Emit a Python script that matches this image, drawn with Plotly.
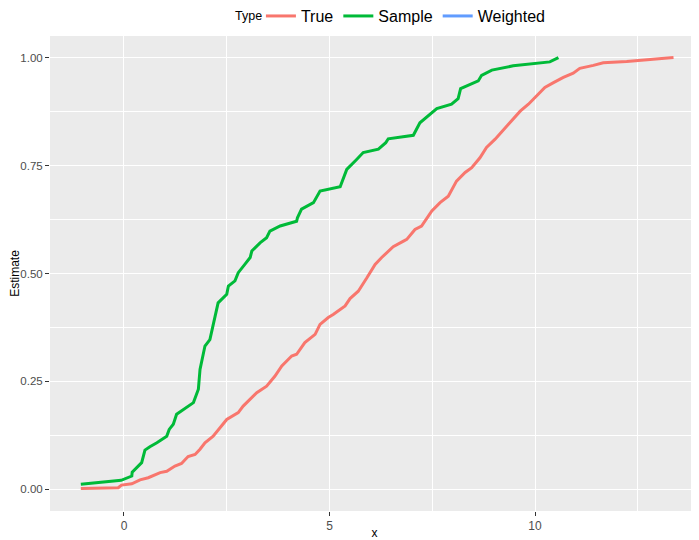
import plotly.graph_objects as go

# ---- data ----
true_x = [-1.05, -0.14, -0.06, 0.19, 0.39, 0.59, 0.88, 1.04, 1.24, 1.40, 1.56, 1.73, 1.85, 1.97,
          2.17, 2.42, 2.50, 2.78, 2.90, 3.23, 3.47, 3.67, 3.84, 4.08, 4.20, 4.40, 4.65, 4.77,
          4.97, 5.09, 5.38, 5.50, 5.70, 5.91, 6.11, 6.27, 6.55, 6.80, 6.88, 7.08, 7.24, 7.49,
          7.69, 7.89, 8.09, 8.30, 8.46, 8.66, 8.82, 9.03, 9.39, 9.64, 9.84, 10.04, 10.24, 10.45,
          10.69, 10.93, 11.09, 11.42, 11.66, 12.23, 12.55, 13.37]
true_y = [0.002, 0.004, 0.010, 0.013, 0.022, 0.027, 0.039, 0.042, 0.054, 0.060, 0.076, 0.081,
          0.093, 0.108, 0.123, 0.151, 0.162, 0.178, 0.193, 0.224, 0.239, 0.262, 0.286, 0.309,
          0.313, 0.340, 0.359, 0.382, 0.398, 0.405, 0.425, 0.442, 0.459, 0.490, 0.521, 0.537,
          0.562, 0.575, 0.579, 0.602, 0.610, 0.645, 0.664, 0.679, 0.714, 0.734, 0.745, 0.768,
          0.792, 0.811, 0.849, 0.876, 0.892, 0.911, 0.931, 0.942, 0.954, 0.964, 0.975, 0.982,
          0.988, 0.991, 0.994, 1.000]

sample_x = [-1.05, -0.07, 0.19, 0.20, 0.43, 0.51, 0.63, 0.80, 1.04, 1.10, 1.20, 1.28, 1.69,
            1.81, 1.85, 1.97, 2.09, 2.21, 2.29, 2.50, 2.54, 2.70, 2.78, 2.94, 3.07, 3.11, 3.31,
            3.47, 3.55, 3.80, 4.20, 4.22, 4.32, 4.61, 4.77, 5.26, 5.42, 5.66, 5.82, 6.19, 6.37,
            6.43, 7.04, 7.20, 7.61, 7.97, 8.13, 8.19, 8.62, 8.70, 8.95, 9.47, 10.36, 10.57]
sample_y = [0.012, 0.021, 0.031, 0.040, 0.062, 0.091, 0.099, 0.108, 0.123, 0.139, 0.151, 0.174,
            0.201, 0.232, 0.278, 0.332, 0.347, 0.394, 0.432, 0.452, 0.471, 0.483, 0.502, 0.521,
            0.537, 0.552, 0.571, 0.583, 0.598, 0.610, 0.621, 0.629, 0.649, 0.664, 0.691, 0.701,
            0.741, 0.764, 0.780, 0.788, 0.803, 0.812, 0.820, 0.849, 0.882, 0.892, 0.905, 0.928,
            0.946, 0.959, 0.971, 0.981, 0.990, 1.000]

x_ticks = [0, 5, 10]
y_ticks = [0.0, 0.25, 0.5, 0.75, 1.0]
y_tick_labels = ["0.00", "0.25", "0.50", "0.75", "1.00"]

FONT = "Liberation Sans, Arial, sans-serif"

fig = go.Figure()
fig.add_trace(go.Scatter(x=true_x, y=true_y, mode="lines", name="True",
                         line=dict(color="#F8766D", width=3)))
fig.add_trace(go.Scatter(x=sample_x, y=sample_y, mode="lines", name="Sample",
                         line=dict(color="#00BA38", width=3)))
fig.add_trace(go.Scatter(x=[None], y=[None], mode="lines", name="Weighted",
                         line=dict(color="#619CFF", width=3)))

fig.add_annotation(text="Type", xref="paper", yref="paper", x=0.33, y=1.042,
                   xanchor="right", yanchor="middle", showarrow=False,
                   font=dict(size=12.5, color="black", family=FONT))

# page body has an 8px margin, so the figure is 8px smaller and margins shifted
fig.update_layout(
    width=691, height=532,
    margin=dict(l=42, r=0, t=28, b=29, autoexpand=False),
    paper_bgcolor="white", plot_bgcolor="#EBEBEB",
    font=dict(family=FONT, color="black"),
    legend=dict(orientation="h", x=0.325, xanchor="left", y=1.042, yanchor="middle",
                font=dict(size=16), bgcolor="rgba(0,0,0,0)", itemwidth=30,
                tracegroupgap=0),
    xaxis=dict(range=[-1.8, 13.99], tickvals=x_ticks, showgrid=True, gridcolor="white",
               gridwidth=1.1, zeroline=False, ticks="outside", ticklen=4,
               tickcolor="#333333", tickwidth=1.1,
               tickfont=dict(size=12, color="#4D4D4D", family=FONT),
               minor=dict(tickvals=[-2.5, 2.5, 7.5, 12.5], showgrid=True,
                          gridcolor="white", gridwidth=0.5, ticks=""),
               title=dict(text="x", font=dict(size=12, family=FONT), standoff=2),
               automargin=False),
    yaxis=dict(range=[-0.05, 1.05], tickvals=y_ticks, ticktext=y_tick_labels,
               showgrid=True, gridcolor="white", gridwidth=1.1, zeroline=False,
               ticks="outside", ticklen=4, tickcolor="#333333", tickwidth=1.1,
               tickfont=dict(size=11.5, color="#4D4D4D", family=FONT),
               minor=dict(tickvals=[0.125, 0.375, 0.625, 0.875], showgrid=True,
                          gridcolor="white", gridwidth=0.5, ticks=""),
               title=dict(text="Estimate", font=dict(size=12, family=FONT), standoff=11),
               automargin=False),
)

fig.write_html("out.html")
